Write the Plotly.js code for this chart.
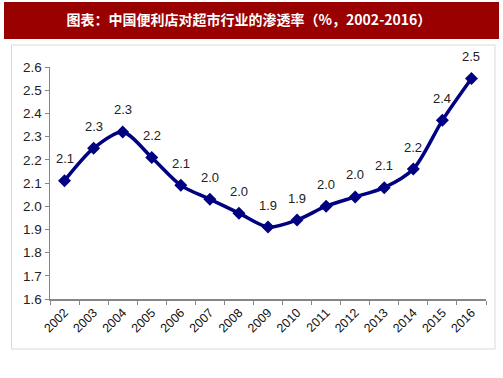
<!DOCTYPE html>
<html>
<head>
<meta charset="utf-8">
<script src="https://cdn.plot.ly/plotly-3.0.1.min.js"></script>
<style>html,body{margin:0;padding:0;background:#fff;}</style>
</head>
<body>
<div id="chart" style="width:503px;height:378px;"></div>
<script>
const years = ['2002','2003','2004','2005','2006','2007','2008','2009','2010','2011','2012','2013','2014','2015','2016'];
const penetration = [2.11, 2.25, 2.32, 2.21, 2.09, 2.03, 1.97, 1.91, 1.94, 2.00, 2.04, 2.08, 2.16, 2.37, 2.55];
const titleText = '图表：中国便利店对超市行业的渗透率（%，2002-2016）';

const trace = {
  x: years,
  y: penetration,
  type: 'scatter',
  mode: 'lines+markers',
  line: {color: '#000080', width: 3.5, shape: 'spline', smoothing: 0.8},
  marker: {symbol: 'diamond', size: 10, color: '#000080'},
  cliponaxis: false,
  hoverinfo: 'x+y'
};

// category index positions for the value labels
const labelAnnotations = years.map((yr, i) => ({
  x: i, y: penetration[i], xref: 'x', yref: 'y',
  text: penetration[i].toFixed(1),
  showarrow: false, yshift: 22, xanchor: 'center', yanchor: 'middle',
  font: {family: 'Arial, Liberation Sans, sans-serif', size: 13, color: '#222'}
}));

const layout = {
  width: 503, height: 378,
  margin: {l: 50, r: 17, t: 67, b: 79},
  paper_bgcolor: '#fff', plot_bgcolor: 'rgba(0,0,0,0)',
  showlegend: false,
  title: {
    text: '<b>' + titleText + '</b>',
    x: 0.495, xanchor: 'center', y: 0.947, yanchor: 'middle',
    font: {family: 'Noto Sans CJK SC, sans-serif', size: 14, color: '#ffffff'}
  },
  xaxis: {
    type: 'category', range: [-0.5, 14.5],
    showline: true, linecolor: '#868686', linewidth: 1.5,
    ticks: 'outside', tickson: 'boundaries', ticklen: 4, tickcolor: '#868686',
    tickangle: -45, showgrid: false, zeroline: false,
    tickfont: {family: 'Arial, Liberation Sans, sans-serif', size: 12.5, color: '#111'}
  },
  yaxis: {
    range: [1.6, 2.6], dtick: 0.1, tick0: 1.6, tickformat: '.1f',
    showline: true, linecolor: '#868686', linewidth: 1.5,
    ticks: 'outside', ticklen: 4, tickcolor: '#868686',
    showgrid: false, zeroline: false,
    tickfont: {family: 'Arial, Liberation Sans, sans-serif', size: 13.5, color: '#222'}
  },
  annotations: labelAnnotations,
  shapes: [
    {type: 'rect', xref: 'paper', yref: 'paper', x0: -0.1055, x1: 1.0298, y0: 1.1207, y1: 1.2802,
     fillcolor: '#990000', line: {width: 0}, layer: 'below'},
    {type: 'rect', xref: 'paper', yref: 'paper', x0: -0.0883, x1: 1.0206, y0: -0.2155, y1: 1.0948,
     fillcolor: 'rgba(0,0,0,0)', line: {width: 1, color: '#d9d9d9'}, layer: 'below'}
  ]
};

Plotly.newPlot('chart', [trace], layout, {displayModeBar: false, staticPlot: true});
</script>
</body>
</html>
